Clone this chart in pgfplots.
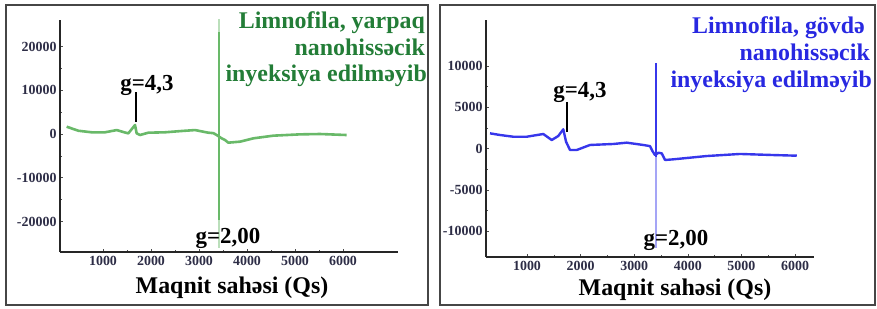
\documentclass[border=0pt]{standalone}
\usepackage{pgfplots}
\pgfplotsset{compat=1.18}
\usepackage{fontspec}
\setmainfont{Liberation Serif}
\definecolor{gline}{RGB}{105,185,105}
\definecolor{gtitle}{RGB}{35,125,55}
\definecolor{bline}{RGB}{55,55,235}
\definecolor{btitle}{RGB}{40,40,225}
\definecolor{tickc}{RGB}{45,45,70}
\definecolor{frame}{RGB}{70,70,70}
\pgfplotsset{
  myaxis/.style={
    scale only axis,
    anchor=south west,
    axis x line*=bottom,
    axis y line*=left,
    axis line style={line width=1.6pt,black!85,-},
    tick style={black!70,line width=0.6pt},
    major tick length=3bp,
    minor tick length=2bp,
    minor tick num=1,
    scaled ticks=false,
    tick label style={font=\fontsize{14}{14}\selectfont\bfseries,text=tickc},
    /pgf/number format/assume math mode=true,
    /pgf/number format/1000 sep={},
    xticklabel style={yshift=-1bp},
    yticklabel style={xshift=0bp},
  }
}
\begin{document}
\begin{tikzpicture}[x=1bp,y=1bp]
\path[use as bounding box] (0,0) rectangle (877,308);
% frames
\draw[frame,line width=1.8bp] (6,3) rectangle (428,303);
\draw[frame,line width=1.8bp] (440,3) rectangle (875,303);

% ---------- left panel ----------
\begin{axis}[myaxis,
  at={(60bp,56bp)}, width=338bp, height=232bp,
  xmin=104, xmax=7146, ymin=-26970, ymax=26060,
  xtick={1000,2000,3000,4000,5000,6000},
  ytick={-20000,-10000,0,10000,20000},
]
\addplot[gline, line width=2.4bp, opacity=0.45] coordinates {(3420,26500)(3420,-26000)};
\addplot[gline, line width=2.4bp] coordinates {(3420,23300)(3420,-19700)};
\addplot[gline, line width=2.6bp, line join=round] coordinates {
(243,1670)(485,750)(764,390)(1042,390)(1285,900)(1444,390)(1528,150)(1667,2060)
(1701,150)(1770,-230)(1944,300)(2292,390)(2640,690)(2917,900)(3194,300)(3300,200)
(3368,-230)(3420,-610)(3472,-990)(3542,-1370)(3611,-1980)(3854,-1750)(4132,-990)
(4548,-380)(5104,-80)(5521,0)(6076,-230)};
\addplot[black, line width=1.3bp] coordinates {(1690,9600)(1690,2800)};
\end{axis}
\node[anchor=base, font=\fontsize{23}{23}\selectfont\bfseries] at (147,218) {g=4,3};
\node[anchor=base, font=\fontsize{23}{23}\selectfont\bfseries] at (228,65) {g=2,00};
\node[anchor=base east, text=gtitle, font=\fontsize{24}{24}\selectfont\bfseries, inner sep=0pt] at (425,280) {Limnofila, yarpaq};
\node[anchor=base east, text=gtitle, font=\fontsize{24}{24}\selectfont\bfseries, inner sep=0pt] at (425,253) {nanohissəcik};
\node[anchor=base east, text=gtitle, font=\fontsize{24}{24}\selectfont\bfseries, inner sep=0pt] at (427,227) {inyeksiya edilməyib};
\node[anchor=base, font=\fontsize{24}{24}\selectfont\bfseries] at (232,15) {Maqnit sahəsi (Qs)};

% ---------- right panel ----------
\begin{axis}[myaxis,
  at={(486bp,51bp)}, width=328bp, height=237bp,
  xmin=235, xmax=6354, ymin=-13140, ymax=15590,
  xtick={1000,2000,3000,4000,5000,6000},
  ytick={-10000,-5000,0,5000,10000},
]
\addplot[bline, line width=1.8bp, opacity=0.45] coordinates {(3410,-1000)(3410,-12050)};
\addplot[bline, line width=1.8bp] coordinates {(3410,10380)(3410,-1000)};
\addplot[bline, line width=2.4bp, line join=round] coordinates {
(310,1850)(496,1650)(744,1440)(994,1440)(1304,1770)(1461,1040)(1584,1530)(1677,2340)
(1728,840)(1802,-170)(1927,-170)(2175,440)(2610,560)(2860,720)(3170,440)(3295,300)
(3340,-300)(3388,-780)(3410,-700)(3450,-500)(3513,-570)(3575,-1380)(3730,-1300)
(4041,-1100)(4353,-900)(4974,-650)(5595,-780)(6032,-860)};
\addplot[black, line width=1.3bp] coordinates {(1746,5650)(1746,2010)};
\end{axis}
\node[anchor=base, font=\fontsize{23}{23}\selectfont\bfseries] at (580,211) {g=4,3};
\node[anchor=base, font=\fontsize{23}{23}\selectfont\bfseries] at (676,63) {g=2,00};
\node[anchor=base east, text=btitle, font=\fontsize{24}{24}\selectfont\bfseries, inner sep=0pt] at (865,275) {Limnofila, gövdə};
\node[anchor=base east, text=btitle, font=\fontsize{24}{24}\selectfont\bfseries, inner sep=0pt] at (870,248) {nanohissəcik};
\node[anchor=base east, text=btitle, font=\fontsize{24}{24}\selectfont\bfseries, inner sep=0pt] at (872,221) {inyeksiya edilməyib};
\node[anchor=base, font=\fontsize{24}{24}\selectfont\bfseries] at (675,13) {Maqnit sahəsi (Qs)};
\end{tikzpicture}
\end{document}
